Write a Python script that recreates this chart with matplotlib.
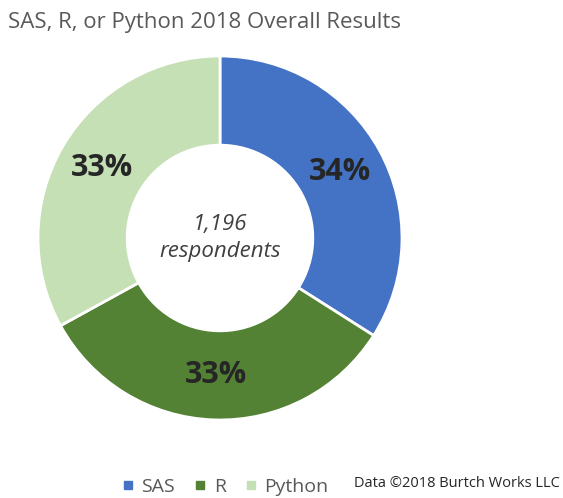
import matplotlib.pyplot as plt
from matplotlib.lines import Line2D

languages = ["SAS", "R", "Python"]
shares = [34, 33, 33]
colors = ["#4472C4", "#548235", "#C5E0B4"]
respondents = "1,196"

plt.rcParams["font.family"] = ["Open Sans", "DejaVu Sans"]

fig = plt.figure(figsize=(5.63, 4.98), dpi=100)
ax = fig.add_axes([0.0675, 0.1566, 0.6465, 0.731])

wedges, _, autotexts = ax.pie(
    shares, colors=colors, startangle=90, counterclock=False,
    autopct=lambda p: f"{p:.0f}%", pctdistance=0.755,
    wedgeprops=dict(width=0.49, edgecolor="white", linewidth=2),
    radius=1.0,
)
for t in autotexts:
    t.set_fontsize(22)
    t.set_fontweight("bold")
    t.set_color("#262626")

ax.text(0, 0, f"{respondents}\nrespondents", ha="center", va="center",
        fontsize=16, style="italic", color="#404040", linespacing=1.35)
ax.set_xlim(-1, 1)
ax.set_ylim(-1, 1)
ax.set_aspect("equal")

fig.text(0.015, 0.955, "SAS, R, or Python 2018 Overall Results",
         fontsize=16, color="#595959", ha="left", va="center")

handles = [Line2D([], [], marker="s", linestyle="", markersize=6,
                  markerfacecolor=c, markeredgecolor=c) for c in colors]
fig.legend(handles, languages, loc="center", ncol=3,
           bbox_to_anchor=(0.40, 1 - 487 / 498), frameon=False,
           fontsize=14, handlelength=0.6, handletextpad=0.4,
           columnspacing=1.0, labelcolor="#595959")

fig.text(0.995, 1 - 483 / 498, "Data \u00a92018 Burtch Works LLC",
         fontsize=10.5, color="#262626", ha="right", va="center")

fig.savefig("out.png", dpi=100, facecolor="white")
